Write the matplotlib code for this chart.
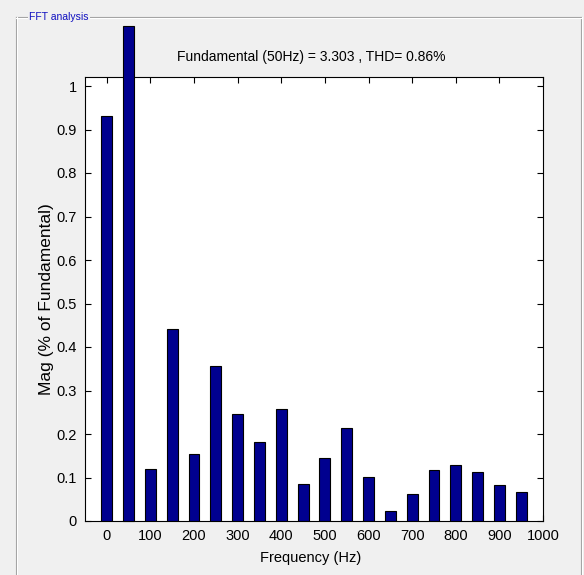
import matplotlib
matplotlib.use("Agg")
import matplotlib.pyplot as plt
from matplotlib.lines import Line2D

# Harmonic spectrum
freqs = [0, 50, 100, 150, 200, 250, 300, 350, 400, 450,
         500, 550, 600, 650, 700, 750, 800, 850, 900, 950]
mags = [0.93, 1.138, 0.12, 0.441, 0.154, 0.357, 0.245, 0.182, 0.258, 0.086,
        0.145, 0.214, 0.101, 0.023, 0.063, 0.117, 0.129, 0.113, 0.082, 0.067]
xticks = list(range(0, 1001, 100))
yticks = [0, 0.1, 0.2, 0.3, 0.4, 0.5, 0.6, 0.7, 0.8, 0.9, 1]
title = "Fundamental (50Hz) = 3.303 , THD= 0.86%"

font = ["Liberation Sans", "DejaVu Sans"]
bg = "#f0f0f0"

fig = plt.figure(figsize=(5.84, 5.75), dpi=100, facecolor=bg)

# panel frame ("FFT analysis" group box)
W, H = 584, 575
def fx(px):
    return px / W
def fy(py):
    return 1 - py / H

for dx, col in [(0, "#a0a0a0"), (1, "#ffffff")]:
    fig.add_artist(Line2D([fx(16), fx(581)], [fy(17 + dx), fy(17 + dx)],
                          color=col, lw=0.8))
    fig.add_artist(Line2D([fx(16 + dx), fx(16 + dx)], [fy(17), fy(575)],
                          color=col, lw=0.8))
    fig.add_artist(Line2D([fx(581 + dx), fx(581 + dx)], [fy(17), fy(575)],
                          color=col, lw=0.8))
fig.text(fx(29), fy(17), "FFT analysis", color="#1010c0", fontsize=7.5,
         family=font, ha="left", va="center",
         bbox=dict(facecolor=bg, edgecolor="none", pad=1))

ax = fig.add_axes([fx(85), fy(521), fx(543) - fx(85), fy(77.3) - fy(521)])
ax.set_facecolor("white")

bars = ax.bar(freqs, mags, width=25, color="#00008f", edgecolor="black",
              linewidth=0.8, zorder=3)
# the fundamental bar runs out of the axes, as in the original
bars[1].set_clip_on(False)

ax.set_xlim(-50, 1000)
ax.set_ylim(0, 1.02)
ax.set_xticks(xticks)
ax.set_yticks(yticks)
ax.set_xticklabels([str(t) for t in xticks], family=font, fontsize=10.5)
ax.set_yticklabels(["0" if t == 0 else ("1" if t == 1 else f"{t:.1f}") for t in yticks],
                   family=font, fontsize=10.5)
ax.tick_params(direction="in", top=True, right=True, length=4, width=0.8,
               pad=6, colors="black")
for s in ax.spines.values():
    s.set_linewidth(0.8)

fig.text(fx(311), fy(57), title, family=font, fontsize=10,
         ha="center", va="center")
fig.text(fx(311), fy(558), "Frequency (Hz)", family=font, fontsize=10.5,
         ha="center", va="center")
fig.text(fx(47), fy(299), "Mag (% of Fundamental)", family=font,
         fontsize=12.5, rotation=90, ha="center", va="center")

fig.savefig("out.png", dpi=100, facecolor=bg)
